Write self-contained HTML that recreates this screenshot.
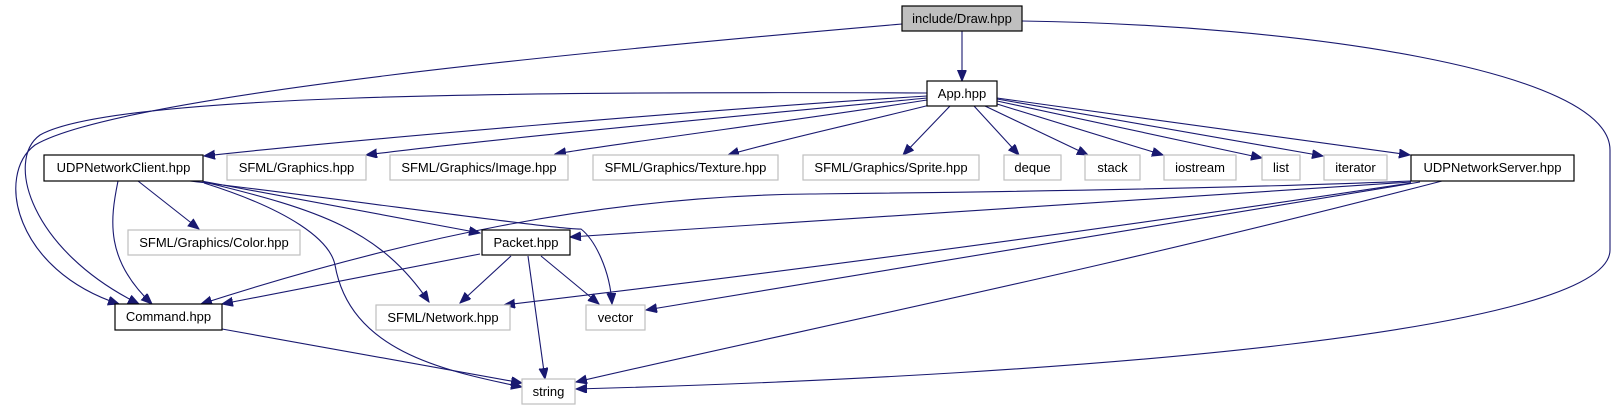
<!DOCTYPE html>
<html><head><meta charset="utf-8"><style>
html,body{margin:0;padding:0;background:#fff;}
svg{display:block;}
text{font-family:"Liberation Sans",Helvetica,Arial,sans-serif;font-size:13px;fill:#000;}
.n{fill:#fff;stroke:#000;stroke-width:1.2;}
.g{fill:#fff;stroke:#bfbfbf;stroke-width:1.2;}
.e{fill:none;stroke:#191970;stroke-width:1.1;}
</style></head><body>
<svg width="1617" height="411" viewBox="0 0 1617 411" xmlns="http://www.w3.org/2000/svg">
<defs>
<marker id="a" markerUnits="userSpaceOnUse" markerWidth="12" markerHeight="10" refX="11" refY="4.5" orient="auto">
<path d="M0,0 L11,4.5 L0,9 Z" fill="#191970" stroke="#191970"/>
</marker>
</defs>
<g class="e" marker-end="url(#a)">
<path d="M962,31 L962,81"/>
<path d="M902,24 C600,50 120,95 35,145 C-5,175 15,270 119,304"/>
<path d="M1022,21 C1300,25 1610,70 1610,150 L1610,250 C1610,330 1100,375 576,389"/>
<path d="M927,93 C500,91 110,95 40,135 C5,160 30,250 139,304"/>
<path d="M927,96 C700,110 350,140 204,156"/>
<path d="M927,98 C750,115 480,140 366,155"/>
<path d="M927,100 C800,120 640,140 555,154"/>
<path d="M930,105 C850,125 780,140 728,155"/>
<path d="M950,106 L903,155"/>
<path d="M974,106 L1019,155"/>
<path d="M985,106 L1088,155"/>
<path d="M997,104 L1163,155"/>
<path d="M997,101 L1262,158"/>
<path d="M997,99 L1323,156"/>
<path d="M997,98 L1410,155"/>
<path d="M118,181 C110,220 105,260 152,304"/>
<path d="M138,181 L199,229"/>
<path d="M196,180 L480,233"/>
<path d="M204,182 C320,210 380,230 429,302"/>
<path d="M190,181 C350,200 560,230 581,229 C595,240 610,270 612,304"/>
<path d="M204,183 C290,210 330,240 335,265 C350,350 440,370 522,387"/>
<path d="M480,254 L222,304"/>
<path d="M511,256 L460,303"/>
<path d="M528,256 L545,379"/>
<path d="M541,256 L599,304"/>
<path d="M222,329 L522,383"/>
<path d="M1411,181 C1200,190 900,193 810,194 C600,196 400,240 201,304"/>
<path d="M1411,182 L570,237"/>
<path d="M1411,183 C1100,230 800,270 504,305"/>
<path d="M1420,182 L646,310"/>
<path d="M1442,181 C1100,270 800,330 576,382"/>
</g>
<rect x="902" y="6" width="120" height="25" fill="#bfbfbf" stroke="#000" stroke-width="1.2"/>
<text x="962" y="23" text-anchor="middle">include/Draw.hpp</text>
<rect class="n" x="927" y="81" width="70" height="25"/><text x="962" y="98" text-anchor="middle">App.hpp</text>
<rect class="n" x="44" y="155" width="159" height="26"/><text x="123.5" y="172" text-anchor="middle">UDPNetworkClient.hpp</text>
<rect class="g" x="227" y="155" width="139" height="25"/><text x="296.5" y="172" text-anchor="middle">SFML/Graphics.hpp</text>
<rect class="g" x="390" y="155" width="178" height="25"/><text x="479" y="172" text-anchor="middle">SFML/Graphics/Image.hpp</text>
<rect class="g" x="593" y="155" width="185" height="25"/><text x="685.5" y="172" text-anchor="middle">SFML/Graphics/Texture.hpp</text>
<rect class="g" x="803" y="155" width="176" height="25"/><text x="891" y="172" text-anchor="middle">SFML/Graphics/Sprite.hpp</text>
<rect class="g" x="1004" y="155" width="57" height="25"/><text x="1032.5" y="172" text-anchor="middle">deque</text>
<rect class="g" x="1085" y="155" width="55" height="25"/><text x="1112.5" y="172" text-anchor="middle">stack</text>
<rect class="g" x="1164" y="155" width="72" height="25"/><text x="1200" y="172" text-anchor="middle">iostream</text>
<rect class="g" x="1262" y="155" width="38" height="25"/><text x="1281" y="172" text-anchor="middle">list</text>
<rect class="g" x="1324" y="155" width="63" height="25"/><text x="1355.5" y="172" text-anchor="middle">iterator</text>
<rect class="n" x="1411" y="155" width="163" height="26"/><text x="1492.5" y="172" text-anchor="middle">UDPNetworkServer.hpp</text>
<rect class="g" x="128" y="230" width="172" height="25"/><text x="214" y="247" text-anchor="middle">SFML/Graphics/Color.hpp</text>
<rect class="n" x="482" y="230" width="88" height="25"/><text x="526" y="247" text-anchor="middle">Packet.hpp</text>
<rect class="n" x="115" y="304" width="107" height="26"/><text x="168.5" y="321" text-anchor="middle">Command.hpp</text>
<rect class="g" x="376" y="305" width="134" height="25"/><text x="443" y="322" text-anchor="middle">SFML/Network.hpp</text>
<rect class="g" x="586" y="305" width="59" height="25"/><text x="615.5" y="322" text-anchor="middle">vector</text>
<rect class="g" x="522" y="379" width="53" height="25"/><text x="548.5" y="396" text-anchor="middle">string</text>
</svg>
</body></html>
